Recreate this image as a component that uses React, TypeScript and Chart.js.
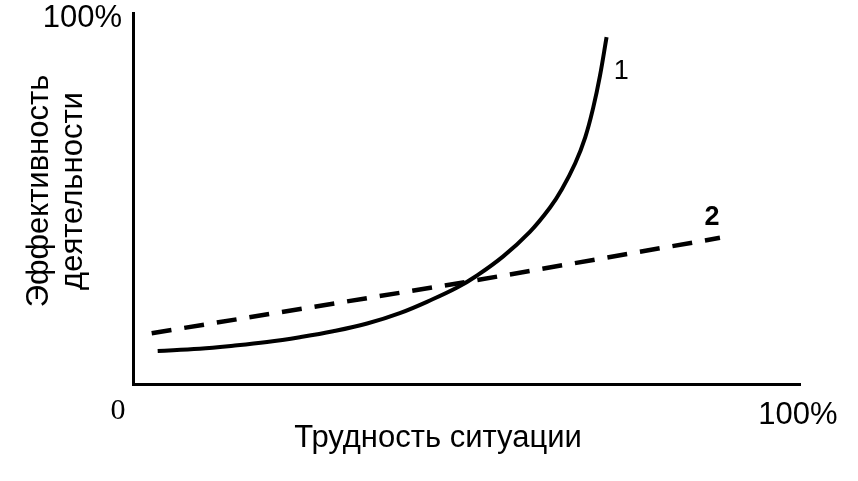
import React, { useEffect, useRef } from "react";
import { Chart, registerables } from "chart.js";

Chart.register(...registerables);

// Curve 1: effectiveness vs difficulty (solid)
const curve1X = [3.7, 10, 15, 20.1, 25, 30, 35.1, 40, 45, 48.6, 51.3, 55.5, 59.5, 62.5, 64.3, 66.3, 67.8, 69, 70, 71.0];
const curve1Y = [8.9, 9.5, 10.3, 11.3, 12.6, 14.2, 16.3, 19.1, 22.9, 26.0, 28.9, 34.4, 41.0, 47.5, 52.5, 59.5, 66.5, 74.5, 83.0, 93.5];

// Curve 2: dashed, almost linear
const curve2X = [2.8, 50, 88];
const curve2Y = [13.7, 27.5, 39.4];

// Curve labels (data coordinates)
const curveLabels = ["1", "2"];
const curveLabelX = [73.2, 86.8];
const curveLabelY = [84.1, 45.0];

const axisMaxLabel = "100%";
const axisZeroLabel = "0";
const xTitle = "Трудность ситуации";
const yTitleLines = ["Эффективность", "деятельности"];

const textPlugin = {
  id: "texts",
  afterDraw(chart: any) {
    const { ctx, chartArea, scales } = chart;
    const xs = scales.x;
    const ys = scales.y;
    ctx.save();
    ctx.fillStyle = "#000";

    // top "100%"
    ctx.font = "31px 'Liberation Sans', Arial, sans-serif";
    ctx.textAlign = "right";
    ctx.textBaseline = "middle";
    ctx.fillText(axisMaxLabel, chartArea.left - 11, ys.getPixelForValue(100) + 5);

    // bottom "100%"
    ctx.textAlign = "center";
    ctx.fillText(axisMaxLabel, xs.getPixelForValue(100) - 2, chartArea.bottom + 31);

    // "0"
    ctx.font = "30px 'Liberation Serif', 'Times New Roman', serif";
    ctx.fillText(axisZeroLabel, chartArea.left - 15, chartArea.bottom + 27);

    // x title
    ctx.font = "31px 'Liberation Sans', Arial, sans-serif";
    ctx.textAlign = "center";
    ctx.textBaseline = "alphabetic";
    ctx.fillText(xTitle, chartArea.left + 305, chartArea.bottom + 63);

    // y title (rotated)
    ctx.save();
    ctx.translate(0, 191);
    ctx.rotate(-Math.PI / 2);
    ctx.textAlign = "center";
    ctx.textBaseline = "alphabetic";
    ctx.font = "31px 'Liberation Sans', Arial, sans-serif";
    ctx.fillText(yTitleLines[0], 0, 48);
    ctx.fillText(yTitleLines[1], 0, 82);
    ctx.restore();

    // curve labels
    ctx.textAlign = "center";
    ctx.textBaseline = "middle";
    curveLabels.forEach((t, i) => {
      ctx.font = (i === 1 ? "bold " : "") + "27px 'Liberation Sans', Arial, sans-serif";
      ctx.fillText(t, xs.getPixelForValue(curveLabelX[i]), ys.getPixelForValue(curveLabelY[i]));
    });

    ctx.restore();
  },
};

export default function App() {
  const ref = useRef<HTMLCanvasElement | null>(null);

  useEffect(() => {
    if (!ref.current) return;
    const chart = new Chart(ref.current, {
      type: "line",
      data: {
        datasets: [
          {
            data: curve1X.map((x, i) => ({ x, y: curve1Y[i] })),
            borderColor: "#000",
            borderWidth: 4,
            pointRadius: 0,
            tension: 0.4,
            fill: false,
          },
          {
            data: curve2X.map((x, i) => ({ x, y: curve2Y[i] })),
            borderColor: "#000",
            borderWidth: 4.5,
            borderDash: [20, 13],
            pointRadius: 0,
            tension: 0,
            fill: false,
          },
        ],
      },
      options: {
        responsive: false,
        animation: false,
        layout: { padding: { left: 133, top: 13, right: 58, bottom: 97 } },
        plugins: { legend: { display: false }, tooltip: { enabled: false }, title: { display: false } },
        scales: {
          x: {
            type: "linear",
            min: 0,
            max: 100,
            grid: { display: false, drawTicks: false },
            ticks: { display: false },
            border: { display: true, color: "#000", width: 3 },
          },
          y: {
            type: "linear",
            min: 0,
            max: 100,
            grid: { display: false, drawTicks: false },
            ticks: { display: false },
            border: { display: true, color: "#000", width: 3 },
          },
        },
      },
      plugins: [textPlugin],
    });
    return () => chart.destroy();
  }, []);

  return (
    <div style={{ position: "fixed", left: 0, top: 0, width: 858, height: 481, background: "#fff" }}>
      <canvas ref={ref} width={858} height={481} style={{ width: 858, height: 481, display: "block" }} />
    </div>
  );
}
